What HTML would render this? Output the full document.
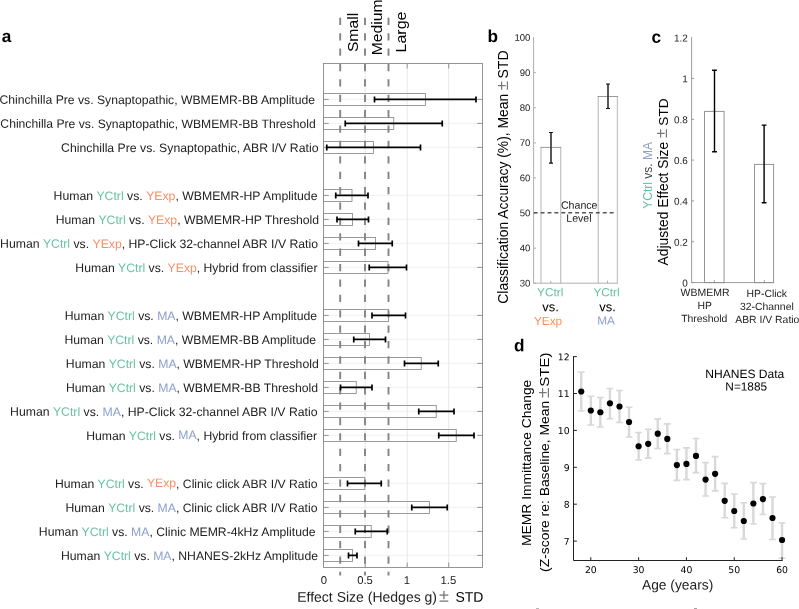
<!DOCTYPE html>
<html><head><meta charset="utf-8"><title>Figure</title>
<style>html,body{margin:0;padding:0;background:#fff;overflow:hidden}svg{display:block;will-change:transform}text{font-family:"Liberation Sans", Arial, Helvetica, sans-serif;}text.dj{font-family:"DejaVu Sans", Verdana, sans-serif;}</style>
</head><body>
<svg width="799" height="609" viewBox="0 0 799 609">
<rect width="799" height="609" fill="#fff"/>
<line x1="365.2" y1="63.5" x2="365.2" y2="567.5" stroke="#e8e8e8" stroke-width="1"/>
<line x1="407.2" y1="63.5" x2="407.2" y2="567.5" stroke="#e8e8e8" stroke-width="1"/>
<line x1="448.7" y1="63.5" x2="448.7" y2="567.5" stroke="#e8e8e8" stroke-width="1"/>
<line x1="323.5" y1="99.4" x2="482.5" y2="99.4" stroke="#ececec" stroke-width="0.8"/>
<line x1="323.5" y1="123.4" x2="482.5" y2="123.4" stroke="#ececec" stroke-width="0.8"/>
<line x1="323.5" y1="147.4" x2="482.5" y2="147.4" stroke="#ececec" stroke-width="0.8"/>
<line x1="323.5" y1="195.4" x2="482.5" y2="195.4" stroke="#ececec" stroke-width="0.8"/>
<line x1="323.5" y1="219.4" x2="482.5" y2="219.4" stroke="#ececec" stroke-width="0.8"/>
<line x1="323.5" y1="243.4" x2="482.5" y2="243.4" stroke="#ececec" stroke-width="0.8"/>
<line x1="323.5" y1="267.4" x2="482.5" y2="267.4" stroke="#ececec" stroke-width="0.8"/>
<line x1="323.5" y1="315.4" x2="482.5" y2="315.4" stroke="#ececec" stroke-width="0.8"/>
<line x1="323.5" y1="339.4" x2="482.5" y2="339.4" stroke="#ececec" stroke-width="0.8"/>
<line x1="323.5" y1="363.4" x2="482.5" y2="363.4" stroke="#ececec" stroke-width="0.8"/>
<line x1="323.5" y1="387.4" x2="482.5" y2="387.4" stroke="#ececec" stroke-width="0.8"/>
<line x1="323.5" y1="411.4" x2="482.5" y2="411.4" stroke="#ececec" stroke-width="0.8"/>
<line x1="323.5" y1="435.4" x2="482.5" y2="435.4" stroke="#ececec" stroke-width="0.8"/>
<line x1="323.5" y1="483.4" x2="482.5" y2="483.4" stroke="#ececec" stroke-width="0.8"/>
<line x1="323.5" y1="507.4" x2="482.5" y2="507.4" stroke="#ececec" stroke-width="0.8"/>
<line x1="323.5" y1="531.4" x2="482.5" y2="531.4" stroke="#ececec" stroke-width="0.8"/>
<line x1="323.5" y1="555.4" x2="482.5" y2="555.4" stroke="#ececec" stroke-width="0.8"/>
<rect x="323.5" y="93.50" width="102.00" height="12" fill="none" stroke="#909090" stroke-width="0.9"/>
<rect x="323.5" y="117.50" width="70.25" height="12" fill="none" stroke="#909090" stroke-width="0.9"/>
<rect x="323.5" y="141.50" width="50.00" height="12" fill="none" stroke="#909090" stroke-width="0.9"/>
<rect x="323.5" y="189.50" width="28.50" height="12" fill="none" stroke="#909090" stroke-width="0.9"/>
<rect x="323.5" y="213.50" width="29.00" height="12" fill="none" stroke="#909090" stroke-width="0.9"/>
<rect x="323.5" y="237.50" width="52.00" height="12" fill="none" stroke="#909090" stroke-width="0.9"/>
<rect x="323.5" y="261.50" width="64.50" height="12" fill="none" stroke="#909090" stroke-width="0.9"/>
<rect x="323.5" y="309.50" width="65.00" height="12" fill="none" stroke="#909090" stroke-width="0.9"/>
<rect x="323.5" y="333.50" width="46.00" height="12" fill="none" stroke="#909090" stroke-width="0.9"/>
<rect x="323.5" y="357.50" width="97.75" height="12" fill="none" stroke="#909090" stroke-width="0.9"/>
<rect x="323.5" y="381.50" width="32.75" height="12" fill="none" stroke="#909090" stroke-width="0.9"/>
<rect x="323.5" y="405.50" width="112.75" height="12" fill="none" stroke="#909090" stroke-width="0.9"/>
<rect x="323.5" y="429.50" width="132.75" height="12" fill="none" stroke="#909090" stroke-width="0.9"/>
<rect x="323.5" y="477.50" width="41.25" height="12" fill="none" stroke="#909090" stroke-width="0.9"/>
<rect x="323.5" y="501.50" width="106.00" height="12" fill="none" stroke="#909090" stroke-width="0.9"/>
<rect x="323.5" y="525.50" width="47.75" height="12" fill="none" stroke="#909090" stroke-width="0.9"/>
<rect x="323.5" y="549.50" width="29.00" height="12" fill="none" stroke="#909090" stroke-width="0.9"/>
<rect x="323.5" y="63.5" width="159.0" height="504.0" fill="none" stroke="#8a8a8a" stroke-width="0.9"/>
<path d="M323.5 99.4h5.2M482.5 99.4h-5.2" stroke="#8a8a8a" stroke-width="0.9"/>
<path d="M323.5 123.4h5.2M482.5 123.4h-5.2" stroke="#8a8a8a" stroke-width="0.9"/>
<path d="M323.5 147.4h5.2M482.5 147.4h-5.2" stroke="#8a8a8a" stroke-width="0.9"/>
<path d="M323.5 195.4h5.2M482.5 195.4h-5.2" stroke="#8a8a8a" stroke-width="0.9"/>
<path d="M323.5 219.4h5.2M482.5 219.4h-5.2" stroke="#8a8a8a" stroke-width="0.9"/>
<path d="M323.5 243.4h5.2M482.5 243.4h-5.2" stroke="#8a8a8a" stroke-width="0.9"/>
<path d="M323.5 267.4h5.2M482.5 267.4h-5.2" stroke="#8a8a8a" stroke-width="0.9"/>
<path d="M323.5 315.4h5.2M482.5 315.4h-5.2" stroke="#8a8a8a" stroke-width="0.9"/>
<path d="M323.5 339.4h5.2M482.5 339.4h-5.2" stroke="#8a8a8a" stroke-width="0.9"/>
<path d="M323.5 363.4h5.2M482.5 363.4h-5.2" stroke="#8a8a8a" stroke-width="0.9"/>
<path d="M323.5 387.4h5.2M482.5 387.4h-5.2" stroke="#8a8a8a" stroke-width="0.9"/>
<path d="M323.5 411.4h5.2M482.5 411.4h-5.2" stroke="#8a8a8a" stroke-width="0.9"/>
<path d="M323.5 435.4h5.2M482.5 435.4h-5.2" stroke="#8a8a8a" stroke-width="0.9"/>
<path d="M323.5 483.4h5.2M482.5 483.4h-5.2" stroke="#8a8a8a" stroke-width="0.9"/>
<path d="M323.5 507.4h5.2M482.5 507.4h-5.2" stroke="#8a8a8a" stroke-width="0.9"/>
<path d="M323.5 531.4h5.2M482.5 531.4h-5.2" stroke="#8a8a8a" stroke-width="0.9"/>
<path d="M323.5 555.4h5.2M482.5 555.4h-5.2" stroke="#8a8a8a" stroke-width="0.9"/>
<path d="M365.2 567.5v-5M365.2 63.5v5" stroke="#8a8a8a" stroke-width="0.9"/>
<path d="M407.2 567.5v-5M407.2 63.5v5" stroke="#8a8a8a" stroke-width="0.9"/>
<path d="M448.7 567.5v-5M448.7 63.5v5" stroke="#8a8a8a" stroke-width="0.9"/>
<line x1="340.2" y1="17.75" x2="340.2" y2="575.6" stroke="#848484" stroke-width="1.9" stroke-dasharray="7.3 8.09"/>
<line x1="365.0" y1="17.75" x2="365.0" y2="575.6" stroke="#848484" stroke-width="1.9" stroke-dasharray="7.3 8.09"/>
<line x1="388.5" y1="17.75" x2="388.5" y2="575.6" stroke="#848484" stroke-width="1.9" stroke-dasharray="7.3 8.09"/>
<path d="M374.5 99.4H476.0M374.5 96.4V102.4M476.0 96.4V102.4" stroke="#000" stroke-width="1.7" fill="none"/>
<path d="M345.25 123.4H442.25M345.25 120.4V126.4M442.25 120.4V126.4" stroke="#000" stroke-width="1.7" fill="none"/>
<path d="M326.75 147.4H420.5M326.75 144.4V150.4M420.5 144.4V150.4" stroke="#000" stroke-width="1.7" fill="none"/>
<path d="M335.75 195.4H368.0M335.75 192.4V198.4M368.0 192.4V198.4" stroke="#000" stroke-width="1.7" fill="none"/>
<path d="M337.0 219.4H368.5M337.0 216.4V222.4M368.5 216.4V222.4" stroke="#000" stroke-width="1.7" fill="none"/>
<path d="M358.5 243.4H392.25M358.5 240.4V246.4M392.25 240.4V246.4" stroke="#000" stroke-width="1.7" fill="none"/>
<path d="M369.25 267.4H406.5M369.25 264.4V270.4M406.5 264.4V270.4" stroke="#000" stroke-width="1.7" fill="none"/>
<path d="M372.0 315.4H405.5M372.0 312.4V318.4M405.5 312.4V318.4" stroke="#000" stroke-width="1.7" fill="none"/>
<path d="M353.75 339.4H385.5M353.75 336.4V342.4M385.5 336.4V342.4" stroke="#000" stroke-width="1.7" fill="none"/>
<path d="M404.5 363.4H438.25M404.5 360.4V366.4M438.25 360.4V366.4" stroke="#000" stroke-width="1.7" fill="none"/>
<path d="M340.5 387.4H372.0M340.5 384.4V390.4M372.0 384.4V390.4" stroke="#000" stroke-width="1.7" fill="none"/>
<path d="M418.75 411.4H454.0M418.75 408.4V414.4M454.0 408.4V414.4" stroke="#000" stroke-width="1.7" fill="none"/>
<path d="M438.75 435.4H474.0M438.75 432.4V438.4M474.0 432.4V438.4" stroke="#000" stroke-width="1.7" fill="none"/>
<path d="M347.5 483.4H381.25M347.5 480.4V486.4M381.25 480.4V486.4" stroke="#000" stroke-width="1.7" fill="none"/>
<path d="M411.75 507.4H447.25M411.75 504.4V510.4M447.25 504.4V510.4" stroke="#000" stroke-width="1.7" fill="none"/>
<path d="M355.25 531.4H387.25M355.25 528.4V534.4M387.25 528.4V534.4" stroke="#000" stroke-width="1.7" fill="none"/>
<path d="M348.5 555.4H357.0M348.5 552.4V558.4M357.0 552.4V558.4" stroke="#000" stroke-width="1.7" fill="none"/>
<text transform="matrix(1 0.0005 0 1 315.09 104.00)" text-anchor="end" font-size="12.193" xml:space="preserve"><tspan fill="#222">Chinchilla Pre vs. Synaptopathic, WBMEMR-BB Amplitude</tspan></text>
<text transform="matrix(1 0.0005 0 1 315.66 128.00)" text-anchor="end" font-size="12.165" xml:space="preserve"><tspan fill="#222">Chinchilla Pre vs. Synaptopathic, WBMEMR-BB Threshold</tspan></text>
<text transform="matrix(1 0.0005 0 1 318.46 152.00)" text-anchor="end" font-size="12.257" xml:space="preserve"><tspan fill="#222">Chinchilla Pre vs. Synaptopathic, ABR I/V Ratio</tspan></text>
<text transform="matrix(1 0.0005 0 1 317.48 200.00)" text-anchor="end" font-size="12.261" xml:space="preserve"><tspan fill="#222">Human </tspan><tspan fill="#66c2a5">YCtrl</tspan><tspan fill="#222"> vs. </tspan><tspan fill="#fc8d62">YExp</tspan><tspan fill="#222">, WBMEMR-HP Amplitude</tspan></text>
<text transform="matrix(1 0.0005 0 1 319.11 224.00)" text-anchor="end" font-size="12.219" xml:space="preserve"><tspan fill="#222">Human </tspan><tspan fill="#66c2a5">YCtrl</tspan><tspan fill="#222"> vs. </tspan><tspan fill="#fc8d62">YExp</tspan><tspan fill="#222">, WBMEMR-HP Threshold</tspan></text>
<text transform="matrix(1 0.0005 0 1 317.96 248.00)" text-anchor="end" font-size="12.220" xml:space="preserve"><tspan fill="#222">Human </tspan><tspan fill="#66c2a5">YCtrl</tspan><tspan fill="#222"> vs. </tspan><tspan fill="#fc8d62">YExp</tspan><tspan fill="#222">, HP-Click 32-channel ABR I/V Ratio</tspan></text>
<text transform="matrix(1 0.0005 0 1 317.48 272.00)" text-anchor="end" font-size="12.217" xml:space="preserve"><tspan fill="#222">Human </tspan><tspan fill="#66c2a5">YCtrl</tspan><tspan fill="#222"> vs. </tspan><tspan fill="#fc8d62">YExp</tspan><tspan fill="#222">, Hybrid from classifier</tspan></text>
<text transform="matrix(1 0.0005 0 1 317.16 320.00)" text-anchor="end" font-size="12.234" xml:space="preserve"><tspan fill="#222">Human </tspan><tspan fill="#66c2a5">YCtrl</tspan><tspan fill="#222"> vs. </tspan><tspan fill="#8da0cb">MA</tspan><tspan fill="#222">, WBMEMR-HP Amplitude</tspan></text>
<text transform="matrix(1 0.0005 0 1 316.01 344.00)" text-anchor="end" font-size="12.210" xml:space="preserve"><tspan fill="#222">Human </tspan><tspan fill="#66c2a5">YCtrl</tspan><tspan fill="#222"> vs. </tspan><tspan fill="#8da0cb">MA</tspan><tspan fill="#222">, WBMEMR-BB Amplitude</tspan></text>
<text transform="matrix(1 0.0005 0 1 318.69 368.00)" text-anchor="end" font-size="12.223" xml:space="preserve"><tspan fill="#222">Human </tspan><tspan fill="#66c2a5">YCtrl</tspan><tspan fill="#222"> vs. </tspan><tspan fill="#8da0cb">MA</tspan><tspan fill="#222">, WBMEMR-HP Threshold</tspan></text>
<text transform="matrix(1 0.0005 0 1 318.03 392.00)" text-anchor="end" font-size="12.215" xml:space="preserve"><tspan fill="#222">Human </tspan><tspan fill="#66c2a5">YCtrl</tspan><tspan fill="#222"> vs. </tspan><tspan fill="#8da0cb">MA</tspan><tspan fill="#222">, WBMEMR-BB Threshold</tspan></text>
<text transform="matrix(1 0.0005 0 1 317.46 416.00)" text-anchor="end" font-size="12.245" xml:space="preserve"><tspan fill="#222">Human </tspan><tspan fill="#66c2a5">YCtrl</tspan><tspan fill="#222"> vs. </tspan><tspan fill="#8da0cb">MA</tspan><tspan fill="#222">, HP-Click 32-channel ABR I/V Ratio</tspan></text>
<text transform="matrix(1 0.0005 0 1 317.15 440.00)" text-anchor="end" font-size="12.205" xml:space="preserve"><tspan fill="#222">Human </tspan><tspan fill="#66c2a5">YCtrl</tspan><tspan fill="#222"> vs. </tspan><tspan fill="#8da0cb" dy="-1">MA</tspan><tspan fill="#222" dy="1">, Hybrid from classifier</tspan></text>
<text transform="matrix(1 0.0005 0 1 317.46 488.00)" text-anchor="end" font-size="12.187" xml:space="preserve"><tspan fill="#222">Human </tspan><tspan fill="#66c2a5">YCtrl</tspan><tspan fill="#222"> vs. </tspan><tspan fill="#fc8d62" dy="-1">YExp</tspan><tspan fill="#222" dy="1">, Clinic click ABR I/V Ratio</tspan></text>
<text transform="matrix(1 0.0005 0 1 317.46 512.00)" text-anchor="end" font-size="12.205" xml:space="preserve"><tspan fill="#222">Human </tspan><tspan fill="#66c2a5">YCtrl</tspan><tspan fill="#222"> vs. </tspan><tspan fill="#8da0cb">MA</tspan><tspan fill="#222">, Clinic click ABR I/V Ratio</tspan></text>
<text transform="matrix(1 0.0005 0 1 315.52 536.00)" text-anchor="end" font-size="12.214" xml:space="preserve"><tspan fill="#222">Human </tspan><tspan fill="#66c2a5">YCtrl</tspan><tspan fill="#222"> vs. </tspan><tspan fill="#8da0cb">MA</tspan><tspan fill="#222">, Clinic MEMR-4kHz Amplitude</tspan></text>
<text transform="matrix(1 0.0005 0 1 317.99 560.00)" text-anchor="end" font-size="12.216" xml:space="preserve"><tspan fill="#222">Human </tspan><tspan fill="#66c2a5">YCtrl</tspan><tspan fill="#222"> vs. </tspan><tspan fill="#8da0cb">MA</tspan><tspan fill="#222">, NHANES-2kHz Amplitude</tspan></text>
<text transform="matrix(1 0.0005 0 1 323.8 584)" text-anchor="middle" font-size="11.3" fill="#222">0</text>
<text transform="matrix(1 0.0005 0 1 365.0 584)" text-anchor="middle" font-size="11.3" fill="#222">0.5</text>
<text transform="matrix(1 0.0005 0 1 407.0 584)" text-anchor="middle" font-size="11.3" fill="#222">1</text>
<text transform="matrix(1 0.0005 0 1 448.4 584)" text-anchor="middle" font-size="11.3" fill="#222">1.5</text>
<text transform="matrix(1 0.0005 0 1 297.2 601.8)" font-size="14" fill="#222">Effect Size (Hedges g)</text>
<text transform="matrix(1 0.0005 0 1 438.9 601.8)" font-size="18" fill="#777">±</text>
<text transform="matrix(1 0.0005 0 1 455.4 601.8)" font-size="14" fill="#000">STD</text>
<rect x="536" y="608" width="3" height="1" fill="#b8b8b8"/><rect x="694" y="608" width="3" height="1" fill="#a4a4a4"/>
<text transform="translate(358.1 52.1) rotate(-90) scale(1 0.93)" font-size="15.7" fill="#000">Small</text>
<text transform="translate(381.9 55.3) rotate(-90) scale(1 0.93)" font-size="15.7" fill="#000">Medium</text>
<text transform="translate(406.25 52.45) rotate(-90) scale(1 0.93)" font-size="16.0" fill="#000">Large</text>
<text transform="matrix(1 0.0005 0 1 1.8 41.9)" font-size="17.2" font-weight="bold" fill="#000">a</text>
<path d="M541.0 283.2V147.4M560.7 147.4V283.2" stroke="#c6c6c6" stroke-width="1.3" fill="none"/><path d="M540.4 147.4H561.3" stroke="#999" stroke-width="1" fill="none"/>
<path d="M598.25 283.2V96.5M617.4 96.5V283.2" stroke="#c6c6c6" stroke-width="1.3" fill="none"/><path d="M597.6 96.5H618" stroke="#999" stroke-width="1" fill="none"/>
<path d="M533.6 37V283.2H617.9" stroke="#a6a6a6" stroke-width="0.9" fill="none"/>
<line x1="533.6" y1="283.20" x2="536.1" y2="283.20" stroke="#a6a6a6" stroke-width="0.9"/>
<text transform="matrix(1 0.0005 0 1 530.4 286.45)" text-anchor="end" font-size="9.6" fill="#222">30</text>
<line x1="533.6" y1="248.11" x2="536.1" y2="248.11" stroke="#a6a6a6" stroke-width="0.9"/>
<text transform="matrix(1 0.0005 0 1 530.4 251.36)" text-anchor="end" font-size="9.6" fill="#222">40</text>
<line x1="533.6" y1="213.03" x2="536.1" y2="213.03" stroke="#a6a6a6" stroke-width="0.9"/>
<text transform="matrix(1 0.0005 0 1 530.4 216.28)" text-anchor="end" font-size="9.6" fill="#222">50</text>
<line x1="533.6" y1="177.94" x2="536.1" y2="177.94" stroke="#a6a6a6" stroke-width="0.9"/>
<text transform="matrix(1 0.0005 0 1 530.4 181.19)" text-anchor="end" font-size="9.6" fill="#222">60</text>
<line x1="533.6" y1="142.86" x2="536.1" y2="142.86" stroke="#a6a6a6" stroke-width="0.9"/>
<text transform="matrix(1 0.0005 0 1 530.4 146.11)" text-anchor="end" font-size="9.6" fill="#222">70</text>
<line x1="533.6" y1="107.77" x2="536.1" y2="107.77" stroke="#a6a6a6" stroke-width="0.9"/>
<text transform="matrix(1 0.0005 0 1 530.4 111.02)" text-anchor="end" font-size="9.6" fill="#222">80</text>
<line x1="533.6" y1="72.69" x2="536.1" y2="72.69" stroke="#a6a6a6" stroke-width="0.9"/>
<text transform="matrix(1 0.0005 0 1 530.4 75.94)" text-anchor="end" font-size="9.6" fill="#222">90</text>
<text transform="matrix(1 0.0005 0 1 530.4 40.85)" text-anchor="end" font-size="9.6" fill="#222">100</text>
<line x1="550.8" y1="283.2" x2="550.8" y2="280.7" stroke="#a6a6a6" stroke-width="0.9"/>
<line x1="607.5" y1="283.2" x2="607.5" y2="280.7" stroke="#a6a6a6" stroke-width="0.9"/>
<line x1="533.75" y1="212.75" x2="614.5" y2="212.75" stroke="#555" stroke-width="1.3" stroke-dasharray="3.9 3.0"/>
<path d="M551 132.5V163" stroke="#444" stroke-width="1.8" fill="none"/><path d="M549 132.5H553M549 163.1H553" stroke="#111" stroke-width="1.2" fill="none"/>
<path d="M608 84V108.5" stroke="#444" stroke-width="1.8" fill="none"/><path d="M606 84H610M606 108.5H610" stroke="#111" stroke-width="1.2" fill="none"/>
<text transform="matrix(1 0.0005 0 1 579.2 208.7)" text-anchor="middle" font-size="10.6" fill="#222">Chance</text>
<text transform="matrix(1 0.0005 0 1 578.9 221.8)" text-anchor="middle" font-size="10.6" fill="#222">Level</text>
<text transform="matrix(1 0.0005 0 1 550.2 296.3)" text-anchor="middle" font-size="11.8" fill="#66c2a5">YCtrl</text>
<text transform="matrix(1 0.0005 0 1 606.5 296.3)" text-anchor="middle" font-size="11.8" fill="#66c2a5">YCtrl</text>
<text transform="matrix(1 0.0005 0 1 550.6 311.3)" text-anchor="middle" font-size="13" fill="#000">vs.</text>
<text transform="matrix(1 0.0005 0 1 607.5 311.3)" text-anchor="middle" font-size="13" fill="#000">vs.</text>
<text transform="matrix(1 0.0005 0 1 548 325)" text-anchor="middle" font-size="11.8" fill="#fc8d62">YExp</text>
<text transform="matrix(1 0.0005 0 1 606.1 324.6)" text-anchor="middle" font-size="11.8" fill="#8da0cb">MA</text>
<text transform="translate(508.05 303.7) rotate(-90)" font-size="13.9" fill="#000" >Classification Accuracy (%), Mean</text>
<text transform="translate(507.7 90.3) rotate(-90)" font-size="17" fill="#777" >±</text>
<text transform="translate(508.05 78.55) rotate(-90)" font-size="14.1" fill="#000" >STD</text>
<text transform="matrix(1 0.0005 0 1 487.6 42)" font-size="17.2" font-weight="bold" fill="#000">b</text>
<rect x="704.5" y="111.4" width="19.6" height="171.20" fill="none" stroke="#959595" stroke-width="1"/>
<rect x="754.5" y="164.4" width="19.1" height="118.20" fill="none" stroke="#959595" stroke-width="1"/>
<path d="M691.6 37V282.6H774.1" stroke="#8e8e8e" stroke-width="0.9" fill="none"/>
<line x1="691.6" y1="282.60" x2="694.1" y2="282.60" stroke="#8e8e8e" stroke-width="0.9"/>
<text transform="matrix(1 0.0005 0 1 687.8 286.50)" text-anchor="end" font-size="10" fill="#222">0</text>
<line x1="691.6" y1="241.76" x2="694.1" y2="241.76" stroke="#8e8e8e" stroke-width="0.9"/>
<text transform="matrix(1 0.0005 0 1 687.8 245.66)" text-anchor="end" font-size="10" fill="#222">0.2</text>
<line x1="691.6" y1="200.92" x2="694.1" y2="200.92" stroke="#8e8e8e" stroke-width="0.9"/>
<text transform="matrix(1 0.0005 0 1 687.8 204.82)" text-anchor="end" font-size="10" fill="#222">0.4</text>
<line x1="691.6" y1="160.08" x2="694.1" y2="160.08" stroke="#8e8e8e" stroke-width="0.9"/>
<text transform="matrix(1 0.0005 0 1 687.8 163.98)" text-anchor="end" font-size="10" fill="#222">0.6</text>
<line x1="691.6" y1="119.24" x2="694.1" y2="119.24" stroke="#8e8e8e" stroke-width="0.9"/>
<text transform="matrix(1 0.0005 0 1 687.8 123.14)" text-anchor="end" font-size="10" fill="#222">0.8</text>
<line x1="691.6" y1="78.40" x2="694.1" y2="78.40" stroke="#8e8e8e" stroke-width="0.9"/>
<text transform="matrix(1 0.0005 0 1 687.8 82.30)" text-anchor="end" font-size="10" fill="#222">1</text>
<text transform="matrix(1 0.0005 0 1 687.8 41.46)" text-anchor="end" font-size="10" fill="#222">1.2</text>
<line x1="714.3" y1="282.6" x2="714.3" y2="280.1" stroke="#8e8e8e" stroke-width="0.9"/>
<line x1="764.3" y1="282.6" x2="764.3" y2="280.1" stroke="#8e8e8e" stroke-width="0.9"/>
<path d="M714.5 70.2V151.8M712.1 70.2H716.9M712.1 151.8H716.9" stroke="#000" stroke-width="1.4" fill="none"/>
<path d="M764.1 125.1V202.7M761.7 125.1H766.5M761.7 202.7H766.5" stroke="#000" stroke-width="1.4" fill="none"/>
<text transform="matrix(1 0.0005 0 1 705.1 296)" text-anchor="middle" font-size="10.5" fill="#222">WBMEMR</text>
<text transform="matrix(1 0.0005 0 1 704.6 309)" text-anchor="middle" font-size="10.4" fill="#222">HP</text>
<text transform="matrix(1 0.0005 0 1 704.3 322)" text-anchor="middle" font-size="10.4" fill="#222">Threshold</text>
<text transform="matrix(1 0.0005 0 1 766.8 297)" text-anchor="middle" font-size="10.4" fill="#222">HP-Click</text>
<text transform="matrix(1 0.0005 0 1 766.85 310)" text-anchor="middle" font-size="10.4" fill="#222">32-Channel</text>
<text transform="matrix(1 0.0005 0 1 767.3 323)" text-anchor="middle" font-size="10.4" fill="#222">ABR I/V Ratio</text>
<text transform="translate(668.0 265.4) rotate(-90)" font-size="13.85" fill="#000" >Adjusted Effect Size</text>
<text transform="translate(666.6 137.9) rotate(-90)" font-size="17" fill="#777" >±</text>
<text transform="translate(668.0 125.75) rotate(-90)" font-size="13.7" fill="#000" >STD</text>
<text transform="translate(652.3 208.7) rotate(-90)" font-size="12.0" xml:space="preserve"><tspan fill="#66c2a5">YCtrl</tspan><tspan fill="#444"> vs. </tspan><tspan fill="#8da0cb">MA</tspan></text>
<text transform="matrix(1 0.0005 0 1 651.5 42.7)" font-size="17.2" font-weight="bold" fill="#000">c</text>
<path d="M581.25 372V411" stroke="#d8d8d8" stroke-width="2.4" fill="none"/>
<path d="M577.85 372H584.65M577.85 411H584.65" stroke="#d8d8d8" stroke-width="1.7" fill="none"/>
<path d="M590.81 396.25V425" stroke="#d8d8d8" stroke-width="2.4" fill="none"/>
<path d="M587.41 396.25H594.21M587.41 425H594.21" stroke="#d8d8d8" stroke-width="1.7" fill="none"/>
<path d="M600.37 397.5V427" stroke="#d8d8d8" stroke-width="2.4" fill="none"/>
<path d="M596.97 397.5H603.77M596.97 427H603.77" stroke="#d8d8d8" stroke-width="1.7" fill="none"/>
<path d="M609.94 388.5V418.75" stroke="#d8d8d8" stroke-width="2.4" fill="none"/>
<path d="M606.54 388.5H613.34M606.54 418.75H613.34" stroke="#d8d8d8" stroke-width="1.7" fill="none"/>
<path d="M619.50 390.5V422.5" stroke="#d8d8d8" stroke-width="2.4" fill="none"/>
<path d="M616.10 390.5H622.90M616.10 422.5H622.90" stroke="#d8d8d8" stroke-width="1.7" fill="none"/>
<path d="M629.06 407.25V437" stroke="#d8d8d8" stroke-width="2.4" fill="none"/>
<path d="M625.66 407.25H632.46M625.66 437H632.46" stroke="#d8d8d8" stroke-width="1.7" fill="none"/>
<path d="M638.62 432.5V460" stroke="#d8d8d8" stroke-width="2.4" fill="none"/>
<path d="M635.22 432.5H642.02M635.22 460H642.02" stroke="#d8d8d8" stroke-width="1.7" fill="none"/>
<path d="M648.18 429.25V458.2" stroke="#d8d8d8" stroke-width="2.4" fill="none"/>
<path d="M644.78 429.25H651.58M644.78 458.2H651.58" stroke="#d8d8d8" stroke-width="1.7" fill="none"/>
<path d="M657.75 418.8V448.5" stroke="#d8d8d8" stroke-width="2.4" fill="none"/>
<path d="M654.35 418.8H661.15M654.35 448.5H661.15" stroke="#d8d8d8" stroke-width="1.7" fill="none"/>
<path d="M667.31 423.8V453.7" stroke="#d8d8d8" stroke-width="2.4" fill="none"/>
<path d="M663.91 423.8H670.71M663.91 453.7H670.71" stroke="#d8d8d8" stroke-width="1.7" fill="none"/>
<path d="M676.87 449.5V480.3" stroke="#d8d8d8" stroke-width="2.4" fill="none"/>
<path d="M673.47 449.5H680.27M673.47 480.3H680.27" stroke="#d8d8d8" stroke-width="1.7" fill="none"/>
<path d="M686.43 447.8V479.6" stroke="#d8d8d8" stroke-width="2.4" fill="none"/>
<path d="M683.03 447.8H689.83M683.03 479.6H689.83" stroke="#d8d8d8" stroke-width="1.7" fill="none"/>
<path d="M695.99 438.5V472.7" stroke="#d8d8d8" stroke-width="2.4" fill="none"/>
<path d="M692.59 438.5H699.39M692.59 472.7H699.39" stroke="#d8d8d8" stroke-width="1.7" fill="none"/>
<path d="M705.56 462.6V496" stroke="#d8d8d8" stroke-width="2.4" fill="none"/>
<path d="M702.16 462.6H708.96M702.16 496H708.96" stroke="#d8d8d8" stroke-width="1.7" fill="none"/>
<path d="M715.12 456.7V490.8" stroke="#d8d8d8" stroke-width="2.4" fill="none"/>
<path d="M711.72 456.7H718.52M711.72 490.8H718.52" stroke="#d8d8d8" stroke-width="1.7" fill="none"/>
<path d="M724.68 483.4V517.75" stroke="#d8d8d8" stroke-width="2.4" fill="none"/>
<path d="M721.28 483.4H728.08M721.28 517.75H728.08" stroke="#d8d8d8" stroke-width="1.7" fill="none"/>
<path d="M734.24 494V527.75" stroke="#d8d8d8" stroke-width="2.4" fill="none"/>
<path d="M730.84 494H737.64M730.84 527.75H737.64" stroke="#d8d8d8" stroke-width="1.7" fill="none"/>
<path d="M743.80 502.75V539" stroke="#d8d8d8" stroke-width="2.4" fill="none"/>
<path d="M740.40 502.75H747.20M740.40 539H747.20" stroke="#d8d8d8" stroke-width="1.7" fill="none"/>
<path d="M753.37 482.6V524" stroke="#d8d8d8" stroke-width="2.4" fill="none"/>
<path d="M749.97 482.6H756.77M749.97 524H756.77" stroke="#d8d8d8" stroke-width="1.7" fill="none"/>
<path d="M762.93 483.7V514.5" stroke="#d8d8d8" stroke-width="2.4" fill="none"/>
<path d="M759.53 483.7H766.33M759.53 514.5H766.33" stroke="#d8d8d8" stroke-width="1.7" fill="none"/>
<path d="M772.49 497V539.5" stroke="#d8d8d8" stroke-width="2.4" fill="none"/>
<path d="M769.09 497H775.89M769.09 539.5H775.89" stroke="#d8d8d8" stroke-width="1.7" fill="none"/>
<path d="M782.05 522.75V558.25" stroke="#d8d8d8" stroke-width="2.4" fill="none"/>
<path d="M778.65 522.75H785.45M778.65 558.25H785.45" stroke="#d8d8d8" stroke-width="1.7" fill="none"/>
<circle cx="581.25" cy="391.5" r="3.1" fill="#000"/>
<circle cx="590.81" cy="410.5" r="3.1" fill="#000"/>
<circle cx="600.37" cy="412.25" r="3.1" fill="#000"/>
<circle cx="609.94" cy="403.25" r="3.1" fill="#000"/>
<circle cx="619.50" cy="406.5" r="3.1" fill="#000"/>
<circle cx="629.06" cy="422" r="3.1" fill="#000"/>
<circle cx="638.62" cy="446.25" r="3.1" fill="#000"/>
<circle cx="648.18" cy="443.8" r="3.1" fill="#000"/>
<circle cx="657.75" cy="433.7" r="3.1" fill="#000"/>
<circle cx="667.31" cy="438.9" r="3.1" fill="#000"/>
<circle cx="676.87" cy="465.1" r="3.1" fill="#000"/>
<circle cx="686.43" cy="463.9" r="3.1" fill="#000"/>
<circle cx="695.99" cy="455.9" r="3.1" fill="#000"/>
<circle cx="705.56" cy="479.6" r="3.1" fill="#000"/>
<circle cx="715.12" cy="473.8" r="3.1" fill="#000"/>
<circle cx="724.68" cy="500.8" r="3.1" fill="#000"/>
<circle cx="734.24" cy="511" r="3.1" fill="#000"/>
<circle cx="743.80" cy="521" r="3.1" fill="#000"/>
<circle cx="753.37" cy="503.5" r="3.1" fill="#000"/>
<circle cx="762.93" cy="499.1" r="3.1" fill="#000"/>
<circle cx="772.49" cy="518" r="3.1" fill="#000"/>
<circle cx="782.05" cy="540" r="3.1" fill="#000"/>
<path d="M573.5 356.1V560.5H782.6" stroke="#222" stroke-width="1" fill="none"/>
<line x1="573.5" y1="541.10" x2="576.9" y2="541.10" stroke="#222" stroke-width="1"/>
<text transform="matrix(1 0.0005 0 1 569.6 544.70)" text-anchor="end" font-size="9.3" fill="#000" class="dj">7</text>
<line x1="573.5" y1="504.20" x2="576.9" y2="504.20" stroke="#222" stroke-width="1"/>
<text transform="matrix(1 0.0005 0 1 569.6 507.80)" text-anchor="end" font-size="9.3" fill="#000" class="dj">8</text>
<line x1="573.5" y1="467.30" x2="576.9" y2="467.30" stroke="#222" stroke-width="1"/>
<text transform="matrix(1 0.0005 0 1 569.6 470.90)" text-anchor="end" font-size="9.3" fill="#000" class="dj">9</text>
<line x1="573.5" y1="430.40" x2="576.9" y2="430.40" stroke="#222" stroke-width="1"/>
<text transform="matrix(1 0.0005 0 1 569.6 434.00)" text-anchor="end" font-size="9.3" fill="#000" class="dj">10</text>
<line x1="573.5" y1="393.50" x2="576.9" y2="393.50" stroke="#222" stroke-width="1"/>
<text transform="matrix(1 0.0005 0 1 569.6 397.10)" text-anchor="end" font-size="9.3" fill="#000" class="dj">11</text>
<line x1="573.5" y1="356.60" x2="576.9" y2="356.60" stroke="#222" stroke-width="1"/>
<text transform="matrix(1 0.0005 0 1 569.6 360.20)" text-anchor="end" font-size="9.3" fill="#000" class="dj">12</text>
<line x1="590.81" y1="560.5" x2="590.81" y2="557.2" stroke="#222" stroke-width="1"/>
<text transform="matrix(1 0.0005 0 1 590.81 573.1)" text-anchor="middle" font-size="9.3" fill="#000" class="dj">20</text>
<line x1="638.62" y1="560.5" x2="638.62" y2="557.2" stroke="#222" stroke-width="1"/>
<text transform="matrix(1 0.0005 0 1 638.62 573.1)" text-anchor="middle" font-size="9.3" fill="#000" class="dj">30</text>
<line x1="686.43" y1="560.5" x2="686.43" y2="557.2" stroke="#222" stroke-width="1"/>
<text transform="matrix(1 0.0005 0 1 686.43 573.1)" text-anchor="middle" font-size="9.3" fill="#000" class="dj">40</text>
<line x1="734.24" y1="560.5" x2="734.24" y2="557.2" stroke="#222" stroke-width="1"/>
<text transform="matrix(1 0.0005 0 1 734.24 573.1)" text-anchor="middle" font-size="9.3" fill="#000" class="dj">50</text>
<line x1="782.05" y1="560.5" x2="782.05" y2="557.2" stroke="#222" stroke-width="1"/>
<text transform="matrix(1 0.0005 0 1 782.05 573.1)" text-anchor="middle" font-size="9.3" fill="#000" class="dj">60</text>
<text transform="matrix(1 0.0005 0 1 677.6 589.5)" text-anchor="middle" font-size="13.8" fill="#222">Age (years)</text>
<text transform="matrix(1 0.0005 0 1 744.8 378)" text-anchor="middle" font-size="12.05" fill="#000">NHANES Data</text>
<text transform="matrix(1 0.0005 0 1 746.2 390.4)" text-anchor="middle" font-size="11.8" fill="#000">N=1885</text>
<text transform="translate(531.0 546.0) rotate(-90) scale(1 0.92)" font-size="13.87" fill="#000">MEMR Immittance Change</text>
<text transform="translate(548.5 571.9) rotate(-90) scale(1 0.92)" font-size="13.88" fill="#000">(Z-score re: Baseline, Mean</text>
<text transform="translate(548.8 398.1) rotate(-90) scale(1 0.81)" font-size="19.5" fill="#777">±</text>
<text transform="translate(548.5 386.7) rotate(-90) scale(1 0.9)" font-size="15" fill="#000">STE)</text>
<text transform="matrix(1 0.0005 0 1 514 351.3)" font-size="17.2" font-weight="bold" fill="#000">d</text>
</svg>
</body></html>
